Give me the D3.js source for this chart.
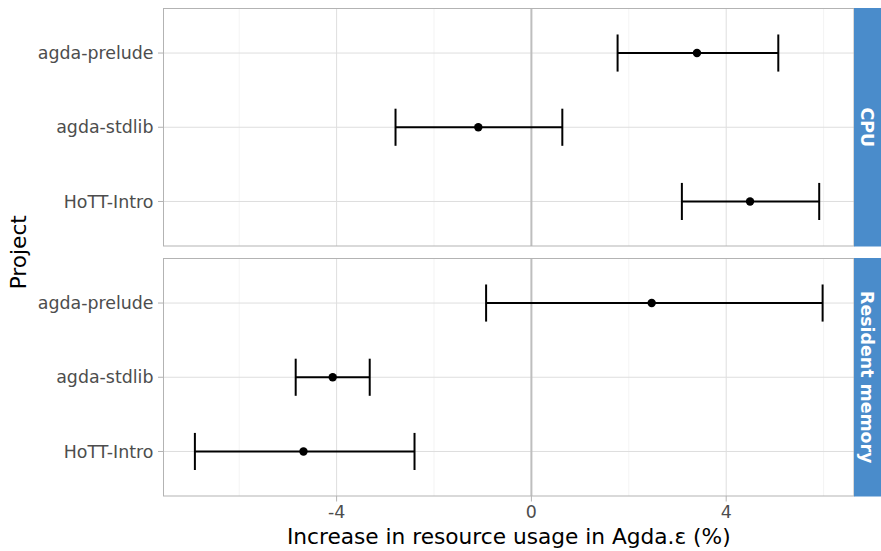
<!DOCTYPE html>
<html>
<head>
<meta charset="utf-8">
<script src="https://cdn.jsdelivr.net/npm/d3@7"></script>
<style>
  body { margin: 0; background: #fff; }
  text { font-family: "DejaVu Sans", sans-serif; }
</style>
</head>
<body>
<svg id="chart" width="881" height="551"></svg>
<script>
// projects listed top to bottom
const projects = ['agda-prelude', 'agda-stdlib', 'HoTT-Intro'];
const facets = ['CPU', 'Resident memory'];

// estimate, lower, upper for each facet (same order as projects)
const cpuEst = [3.40, -1.09, 4.49];
const cpuLo = [1.77, -2.79, 3.09];
const cpuHi = [5.07, 0.635, 5.91];
const memEst = [2.47, -4.08, -4.68];
const memLo = [-0.93, -4.84, -6.91];
const memHi = [5.98, -3.32, -2.40];

const xTicks = [-4, 0, 4];
const xMinor = [-6, -2, 2, 6];

const rows = [
  { facet: facets[0], est: cpuEst, lo: cpuLo, hi: cpuHi },
  { facet: facets[1], est: memEst, lo: memLo, hi: memHi }
];

const svg = d3.select('#chart');

const left = 163.5, right = 854, stripW = 27;
const panels = [{ top: 8.5, bottom: 246 }, { top: 258.5, bottom: 496 }];

// x domain with 5% expansion like ggplot
const allVals = [...cpuLo, ...cpuHi, ...memLo, ...memHi];
const lo = d3.min(allVals), hi = d3.max(allVals);
const pad = (hi - lo) * 0.05;
const x = d3.scaleLinear().domain([lo - pad, hi + pad]).range([left, right]);

rows.forEach((r, i) => {
  const p = panels[i];
  // discrete y scale with 0.6 expansion
  const y = d3.scalePoint().domain(projects).range([p.top, p.bottom]).padding(0.6);
  const band = y.step();
  const g = svg.append('g');

  g.append('rect')
    .attr('x', left).attr('y', p.top)
    .attr('width', right - left).attr('height', p.bottom - p.top)
    .attr('fill', '#fff');

  // minor grid
  g.selectAll('.minor').data(xMinor).join('line')
    .attr('x1', d => x(d)).attr('x2', d => x(d))
    .attr('y1', p.top).attr('y2', p.bottom)
    .attr('stroke', '#ececec').attr('stroke-width', 0.6);

  // major grid
  g.selectAll('.majx').data(xTicks).join('line')
    .attr('x1', d => x(d)).attr('x2', d => x(d))
    .attr('y1', p.top).attr('y2', p.bottom)
    .attr('stroke', '#dedede').attr('stroke-width', 1);

  g.selectAll('.majy').data(projects).join('line')
    .attr('x1', left).attr('x2', right)
    .attr('y1', d => y(d)).attr('y2', d => y(d))
    .attr('stroke', '#dedede').attr('stroke-width', 1);

  // zero reference line
  g.append('line')
    .attr('x1', x(0)).attr('x2', x(0))
    .attr('y1', p.top).attr('y2', p.bottom)
    .attr('stroke', '#bebebe').attr('stroke-width', 2);

  // error bars
  const data = projects.map((d, j) => ({ p: d, est: r.est[j], lo: r.lo[j], hi: r.hi[j] }));
  const eb = g.append('g').attr('stroke', '#000').attr('stroke-width', 2);
  eb.selectAll('.h').data(data).join('line')
    .attr('x1', d => x(d.lo)).attr('x2', d => x(d.hi))
    .attr('y1', d => y(d.p)).attr('y2', d => y(d.p));
  eb.selectAll('.l').data(data).join('line')
    .attr('x1', d => x(d.lo)).attr('x2', d => x(d.lo))
    .attr('y1', d => y(d.p) - band * 0.25).attr('y2', d => y(d.p) + band * 0.25);
  eb.selectAll('.r').data(data).join('line')
    .attr('x1', d => x(d.hi)).attr('x2', d => x(d.hi))
    .attr('y1', d => y(d.p) - band * 0.25).attr('y2', d => y(d.p) + band * 0.25);

  g.selectAll('circle').data(data).join('circle')
    .attr('cx', d => x(d.est)).attr('cy', d => y(d.p))
    .attr('r', 4.2).attr('fill', '#000');

  // panel border
  g.append('rect')
    .attr('x', left).attr('y', p.top)
    .attr('width', right - left).attr('height', p.bottom - p.top)
    .attr('fill', 'none').attr('stroke', '#b3b3b3').attr('stroke-width', 1);

  // y axis ticks and labels
  g.selectAll('.yt').data(projects).join('line')
    .attr('x1', left - 5.5).attr('x2', left)
    .attr('y1', d => y(d)).attr('y2', d => y(d))
    .attr('stroke', '#b3b3b3').attr('stroke-width', 1);
  g.selectAll('.yl').data(projects).join('text')
    .attr('x', left - 10).attr('y', d => y(d))
    .attr('dy', '0.35em')
    .attr('text-anchor', 'end')
    .attr('fill', '#4d4d4d')
    .style('font-size', '17.4px')
    .text(d => d);

  // strip
  g.append('rect')
    .attr('x', right).attr('y', p.top - 0.5)
    .attr('width', stripW).attr('height', p.bottom - p.top + 1)
    .attr('fill', '#4a8ccb');
  g.append('text')
    .attr('transform', `translate(${right + stripW / 2},${(p.top + p.bottom) / 2}) rotate(90)`)
    .attr('text-anchor', 'middle').attr('dy', '0.35em')
    .attr('fill', '#fff').style('font-size', '17.4px').style('font-weight', 'bold')
    .text(r.facet);
});

// x axis ticks and labels (bottom panel)
const pb = panels[1].bottom;
svg.append('g').selectAll('line').data(xTicks).join('line')
  .attr('x1', d => x(d)).attr('x2', d => x(d))
  .attr('y1', pb).attr('y2', pb + 5.5)
  .attr('stroke', '#b3b3b3');
svg.append('g').selectAll('text').data(xTicks).join('text')
  .attr('x', d => x(d)).attr('y', 518)
  .attr('text-anchor', 'middle')
  .attr('fill', '#4d4d4d').style('font-size', '17.4px')
  .text(d => d);

svg.append('text')
  .attr('x', (left + right) / 2).attr('y', 544)
  .attr('text-anchor', 'middle').attr('fill', '#000')
  .style('font-size', '21.7px')
  .text('Increase in resource usage in Agda.ε (%)');

svg.append('text')
  .attr('transform', `translate(26,${(panels[0].top + panels[1].bottom) / 2}) rotate(-90)`)
  .attr('text-anchor', 'middle').attr('fill', '#000')
  .style('font-size', '21.7px')
  .text('Project');
</script>
</body>
</html>
